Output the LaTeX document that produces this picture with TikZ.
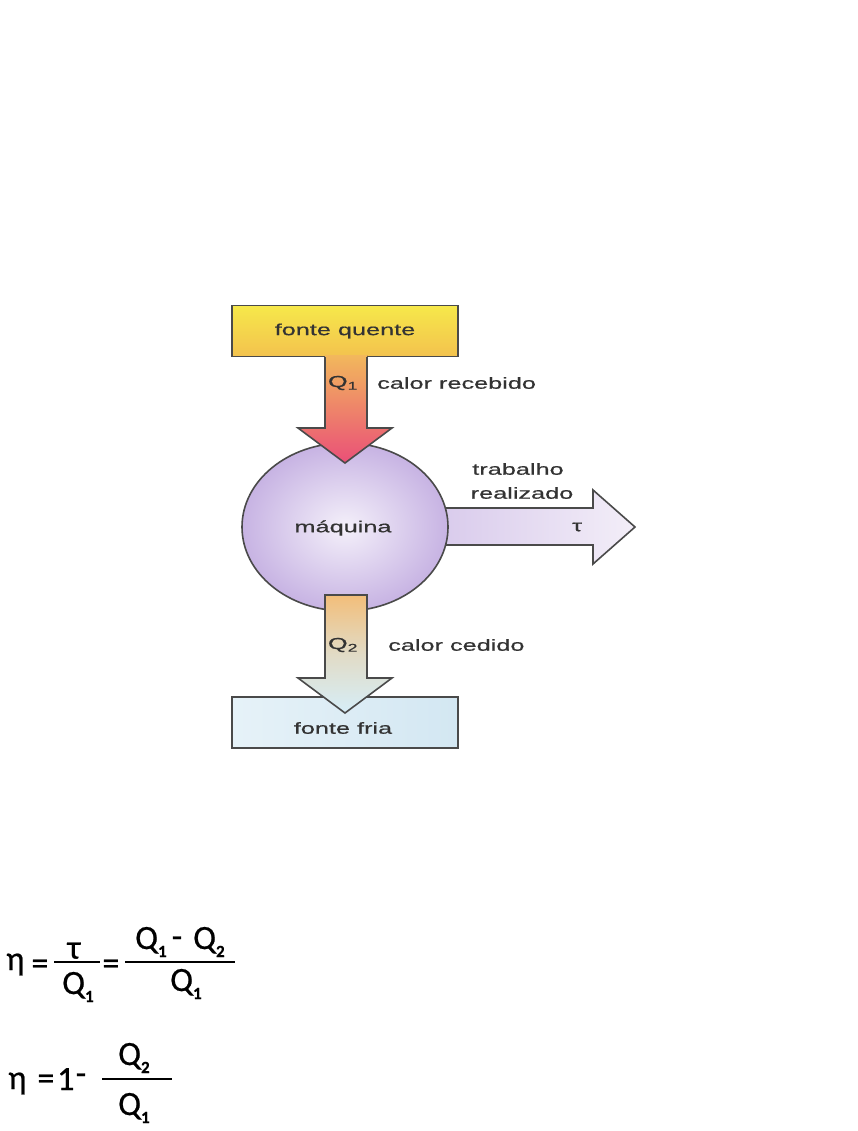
\documentclass[tikz,border=0pt]{standalone}
\usepackage{fontspec}
\setmainfont{Liberation Sans}
\newfontfamily\lab[FakeStretch=1.58,FakeBold=0.6]{Liberation Sans}
\newfontfamily\eqf[FakeBold=0.6]{Carlito}
\usetikzlibrary{shapes.geometric}
\definecolor{hotTop}{HTML}{F6E84A}
\definecolor{hotBot}{HTML}{F3C24E}
\definecolor{qOneTop}{HTML}{F2B85C}
\definecolor{qOneBot}{HTML}{EA4F78}
\definecolor{lavC}{HTML}{F4F0FA}
\definecolor{lavE}{HTML}{C7B3E3}
\definecolor{workA}{HTML}{D9CBEC}
\definecolor{workB}{HTML}{F3EEF8}
\definecolor{qTwoTop}{HTML}{F2BE7A}
\definecolor{qTwoBot}{HTML}{D6EEF8}
\definecolor{coldA}{HTML}{E6F2F8}
\definecolor{coldB}{HTML}{D3E7F2}
\definecolor{ink}{HTML}{333333}
\definecolor{edge}{HTML}{4A4A4A}
\newcommand\subd[1]{\raisebox{-8pt}{\eqf\bfseries\fontsize{17}{19}\selectfont #1}}
\begin{document}
\begin{tikzpicture}[x=1pt,y=-1pt,line join=miter,
  outl/.style={draw=edge,line width=1.6pt},
  lbl/.style={font=\lab\fontsize{16}{19}\selectfont,text=ink,inner sep=0pt},
  eqt/.style={font=\eqf\fontsize{34}{36}\selectfont,text=black,inner sep=0pt},
  bar/.style={draw=black,line width=1.3pt}]
\useasboundingbox (0,0) rectangle (857,1131);

% hot source
\node[outl,top color=hotTop,bottom color=hotBot,minimum width=226pt,minimum height=51pt,inner sep=0pt] (hot) at (345,331) {};
\node[lbl] (hotlbl) at (345,331) {fonte quente};

% work arrow (under the machine)
\fill[left color=workA,right color=workB] (440,508) -- (593,508) -- (593,490) -- (635,527) -- (593,564) -- (593,545) -- (440,545) -- cycle;
\draw[outl] (446,508) -- (593,508) -- (593,490) -- (635,527) -- (593,564) -- (593,545) -- (446,545);

% machine
\node[outl,ellipse,inner color=lavC,outer color=lavE,minimum width=206pt,minimum height=168pt,inner sep=0pt] (maq) at (345,527) {};
\node[lbl] (maqlbl) at (343,528) {máquina};

% Q1 arrow
\fill[top color=qOneTop,bottom color=qOneBot] (325,355) -- (325,428) -- (298,428) -- (345,463) -- (392,428) -- (367,428) -- (367,355) -- cycle;
\draw[outl] (325,357) -- (325,428) -- (298,428) -- (345,463) -- (392,428) -- (367,428) -- (367,357);

% cold source
\node[outl,left color=coldA,right color=coldB,minimum width=226pt,minimum height=51pt,inner sep=0pt] (cold) at (345,722.5) {};

% Q2 arrow
\fill[top color=qTwoTop,bottom color=qTwoBot,middle color=qTwoTop!40!qTwoBot] (325,595) -- (325,678) -- (298,678) -- (345,713) -- (392,678) -- (367,678) -- (367,595) -- cycle;
\draw[outl] (325,595) -- (325,678) -- (298,678) -- (345,713) -- (392,678) -- (367,678) -- (367,595) -- cycle;
\node[lbl] (coldlbl) at (343,728) {fonte fria};

% labels
\node[lbl] (q1) at (343,383) {Q\textsubscript{1}};
\node[lbl,anchor=west] (rec) at (377,383) {calor recebido};
\node[lbl] (trab) at (518,469) {trabalho};
\node[lbl] (real) at (522,493) {realizado};
\node[lbl] (tau) at (577,527) {τ};
\node[lbl] (q2) at (343,645) {Q\textsubscript{2}};
\node[lbl,anchor=west] (ced) at (388,645) {calor cedido};

% equation 1
\node[eqt,anchor=base west] (e1eta) at (6,970) {η};
\node[eqt] (e1eq) at (40,967) {=};
\coordinate (b1a) at (54,962);
\coordinate (b1b) at (100,962);
\draw[bar] (b1a) -- (b1b);
\node[eqt,anchor=south] (e1tau) at (74,959) {τ};
\node[eqt,anchor=base west] (e1d) at (62,994) {Q\subd{1}};
\node[eqt] (e1eq2) at (111,967) {=};
\coordinate (b2a) at (125,962);
\coordinate (b2b) at (235,962);
\draw[bar] (b2a) -- (b2b);
\node[eqt,anchor=base west] (e1n1) at (135,949) {Q\subd{1}};
\node[eqt] (e1minus) at (177,942) {-};
\node[eqt,anchor=base west] (e1n2) at (193,949) {Q\subd{2}};
\node[eqt,anchor=base west] (e1d2) at (170,991) {Q\subd{1}};

% equation 2
\node[eqt,anchor=base west] (e2eta) at (8,1089) {η};
\node[eqt] (e2eq) at (46,1082) {=};
\node[eqt,anchor=base west] (e2one) at (57,1090) {1};
\node[eqt] (e2minus) at (81,1079) {-};
\coordinate (b3a) at (102,1079);
\coordinate (b3b) at (172,1079);
\draw[bar] (b3a) -- (b3b);
\node[eqt,anchor=base west] (e2n) at (118,1065) {Q\subd{2}};
\node[eqt,anchor=base west] (e2d) at (118,1115) {Q\subd{1}};
\end{tikzpicture}
\end{document}
